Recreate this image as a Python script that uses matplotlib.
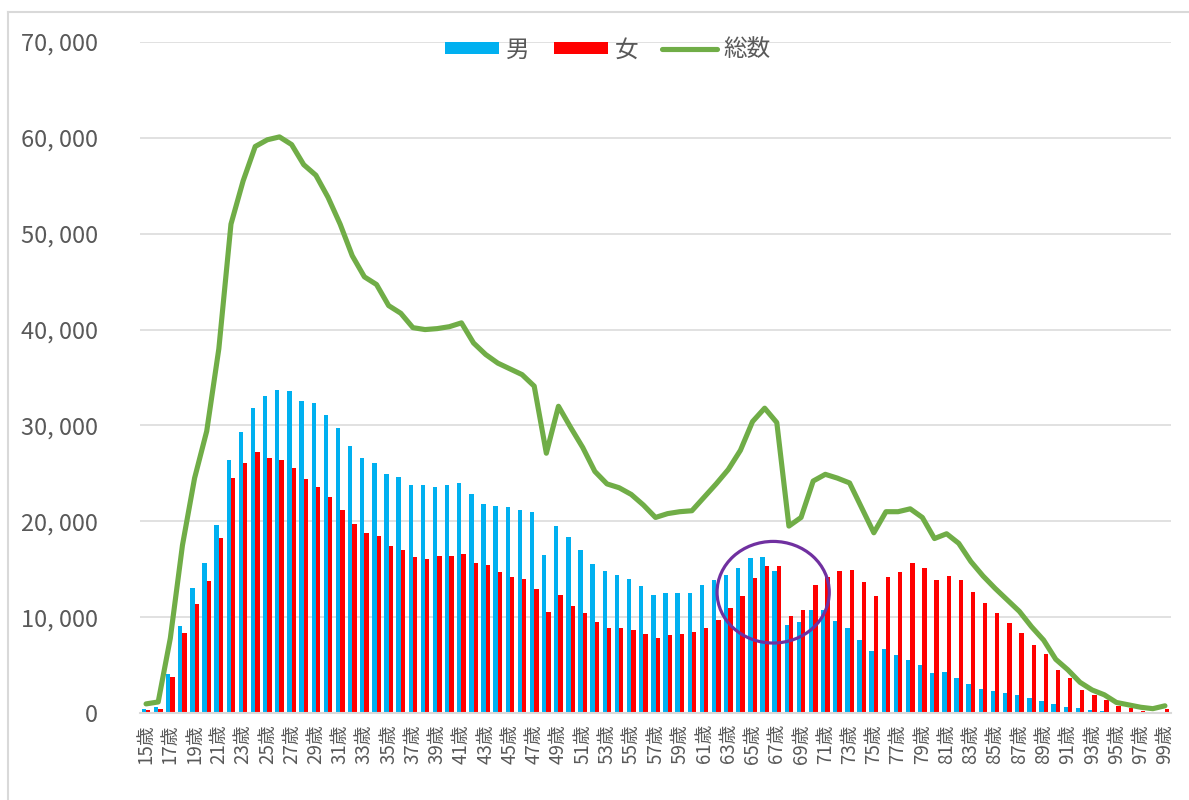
import matplotlib
matplotlib.use("Agg")
import matplotlib.pyplot as plt
from matplotlib.patches import Ellipse
from matplotlib.lines import Line2D
from matplotlib.ticker import FuncFormatter, MultipleLocator
import numpy as np

plt.rcParams['font.family'] = ['Noto Sans CJK JP', 'DejaVu Sans']

ages = list(range(15, 100))
labels = [f"{a}歳" for a in ages]

male = [400, 600, 4050, 9100, 13050, 15600, 19600, 26400, 29300, 31800,
        33100, 33650, 33600, 32600, 32350, 31100, 29750, 27850, 26650, 26050,
        24950, 24650, 23750, 23800, 23600, 23800, 24000, 22800, 21850, 21600,
        21500, 21200, 20950, 16450, 19500, 18400, 17050, 15500, 14850, 14400,
        14000, 13250, 12300, 12550, 12550, 12500, 13400, 13900, 14350, 15100,
        16150, 16250, 14800, 9200, 9500, 10750, 10700, 9600, 8900, 7650,
        6500, 6700, 6050, 5500, 5000, 4150, 4300, 3700, 3050, 2550,
        2250, 2050, 1850, 1550, 1200, 950, 650, 500, 300, 200,
        100, 70, 40, 30, 60]

female = [300, 450, 3750, 8300, 11350, 13750, 18250, 24500, 26050, 27250,
          26550, 26350, 25600, 24450, 23600, 22550, 21200, 19700, 18750, 18500,
          17400, 17000, 16300, 16100, 16350, 16400, 16550, 15600, 15400, 14750,
          14200, 13950, 12950, 10500, 12300, 11200, 10450, 9500, 8900, 8900,
          8650, 8250, 7850, 8100, 8250, 8450, 8900, 9750, 10950, 12200,
          14050, 15350, 15300, 10100, 10750, 13350, 14150, 14800, 14900, 13700,
          12200, 14150, 14700, 15600, 15150, 13900, 14250, 13850, 12600, 11500,
          10400, 9350, 8300, 7100, 6150, 4500, 3600, 2450, 1850, 1400,
          750, 500, 250, 150, 400]

total = [950, 1150, 7800, 17500, 24500, 29400, 38000, 51000, 55500, 59100,
         59800, 60100, 59300, 57200, 56100, 53800, 51000, 47700, 45500, 44700,
         42500, 41700, 40200, 40000, 40100, 40300, 40700, 38600, 37400, 36500,
         35900, 35300, 34100, 27100, 32000, 29800, 27700, 25200, 23900, 23500,
         22800, 21700, 20400, 20800, 21000, 21100, 22500, 23900, 25400, 27400,
         30400, 31800, 30300, 19500, 20400, 24200, 24900, 24500, 24000, 21400,
         18800, 21000, 21000, 21300, 20400, 18200, 18700, 17700, 15800, 14300,
         13000, 11800, 10600, 9000, 7600, 5600, 4500, 3200, 2400, 1900,
         1100, 850, 600, 450, 750]

series_names = ["男", "女", "総数"]
c_male, c_female, c_total = "#00B0F0", "#FF0000", "#70AD47"
c_text, c_grid = "#595959", "#D9D9D9"

# highlight ellipse (annotation)
hl_center_idx, hl_center_val = 51.7, 12600
hl_width_idx, hl_height_val = 9.25, 10600

W, H = 1189, 800
fig = plt.figure(figsize=(W / 100, H / 100), dpi=100)
ax = fig.add_axes([140 / W, 1 - 713 / H, (1171 - 140) / W, (713 - 42) / H])

x = np.arange(len(ages))
bw = 0.36
hm = ax.bar(x - bw / 2, male, width=bw, color=c_male, label=series_names[0], zorder=2)
hf = ax.bar(x + bw / 2, female, width=bw, color=c_female, label=series_names[1], zorder=2)
ht, = ax.plot(x, total, color=c_total, lw=3.7, solid_joinstyle='round',
              solid_capstyle='round', label=series_names[2], zorder=3)

ax.add_patch(Ellipse((hl_center_idx, hl_center_val), hl_width_idx, hl_height_val,
                     fill=False, edgecolor="#7030A0", lw=2.3, zorder=4))

ax.set_xlim(-0.5, len(ages) - 0.5)
ax.set_ylim(0, 70000)
ax.yaxis.set_major_locator(MultipleLocator(10000))
ax.yaxis.set_major_formatter(FuncFormatter(lambda v, p: f"{int(v):,}".replace(",", ", ")))
ax.grid(axis='y', color=c_grid, lw=1.1, zorder=0)
ax.set_axisbelow(True)

ax.set_xticks(x[::2])
ax.set_xticklabels(labels[::2], rotation=90, fontsize=13.5, color=c_text)
ax.tick_params(axis='x', length=0, pad=8)
ax.tick_params(axis='y', length=0, pad=30, labelsize=17, labelcolor=c_text)

for s in ['top', 'right', 'left']:
    ax.spines[s].set_visible(False)
ax.spines['bottom'].set_color(c_grid)
ax.spines['bottom'].set_linewidth(1.5)

leg = ax.legend([hm, hf, ht], series_names, loc='center',
                bbox_to_anchor=(608 / W, 1 - 50 / H),
                bbox_transform=fig.transFigure, ncol=3, frameon=False,
                fontsize=17, handlelength=2.3, handleheight=0.4,
                handletextpad=0.3, columnspacing=1.0)
for t in leg.get_texts():
    t.set_color(c_text)

# outer chart border
fig.add_artist(Line2D([8 / W, 8 / W], [0, 1 - 12 / H], color=c_grid, lw=1.5))
fig.add_artist(Line2D([8 / W, 1], [1 - 12 / H, 1 - 12 / H], color=c_grid, lw=1.5))

fig.savefig("out.png", dpi=100)
